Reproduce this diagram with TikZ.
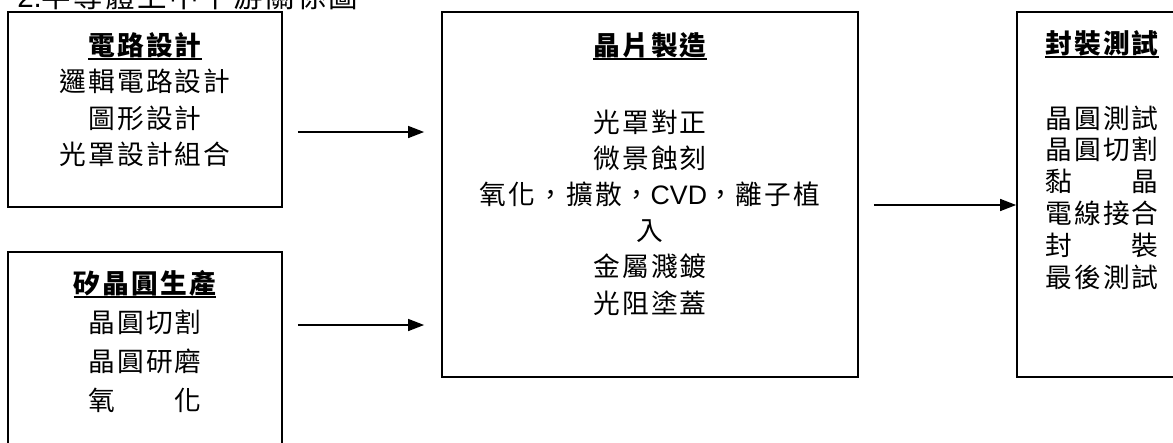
\documentclass[tikz,border=0pt]{standalone}
\usepackage{fontspec}
\setmainfont{Liberation Sans}
\newfontfamily\cjk[LetterSpace=8]{Noto Sans CJK TC}
\usetikzlibrary{arrows.meta}

\begin{document}
\begin{tikzpicture}[x=0.025cm, y=-0.025cm,
    box/.style={draw, line width=1.2pt, inner sep=0pt},
    item/.style={inner sep=0pt, text height=16.7pt, text depth=2.3pt, font=\fontsize{19}{23}\selectfont\cjk},
    head/.style={item, font=\fontsize{19}{23}\selectfont\cjk\bfseries,
        append after command={(\tikzlastnode.south west) edge[line width=1.4pt] (\tikzlastnode.south east)}},
    flow/.style={line width=1pt, -{Triangle[length=0.4cm, width=0.3cm]}}]
    \useasboundingbox (0,0) rectangle (1173,442);

    % Title (cut at the top edge)
    \node[anchor=base west, inner sep=0pt, font=\fontsize{21}{24}\selectfont] (title) at (17,7) {2.{\cjk 半導體上中下游關係圖}};

    % Boxes
    \node[box, minimum width=6.85cm, minimum height=4.875cm] (design) at (145,109.5) {};
    \node[box, minimum width=6.85cm, minimum height=5.2cm] (wafer) at (145,356) {};
    \node[box, minimum width=10.4cm, minimum height=9.125cm] (fab) at (650,194.5) {};
    \node[box, minimum width=4.25cm, minimum height=9.125cm] (pack) at (1102,194.5) {};

    % Circuit design
    \node[head] (design-h) at (145,45) {電路設計};
    \foreach \t [count=\i] in {邏輯電路設計,圖形設計,光罩設計組合}
        \node[item] (design-\i) at (145,45+36.5*\i) {\t};

    % Wafer production
    \node[head] (wafer-h) at (145,283) {矽晶圓生產};
    \foreach \t [count=\i] in {晶圓切割,晶圓研磨,氧　　化}
        \node[item] (wafer-\i) at (145,283+39*\i) {\t};

    % Chip fabrication
    \node[head] (fab-h) at (650,45) {晶片製造};
    \foreach \t [count=\i] in {光罩對正,微景蝕刻,氧化，擴散，{\rmfamily CVD}，離子植,入,金屬濺鍍,光阻塗蓋}
        \node[item] (fab-\i) at (650,122+36.2*\i-36.2) {\t};

    % Packaging and test
    \node[head] (pack-h) at (1102,43) {封裝測試};
    \foreach \t [count=\i] in {晶圓測試,晶圓切割,黏　　晶,電線接合,封　　裝,最後測試}
        \node[item] (pack-\i) at (1102,118+31.8*\i-31.8) {\t};

    % Arrows
    \draw[flow, shorten <=0.375cm, shorten >=0.425cm] (design.east |- 0,132) -- (fab.west |- 0,132);
    \draw[flow, shorten <=0.375cm, shorten >=0.425cm] (wafer.east |- 0,325) -- (fab.west |- 0,325);
    \draw[flow, shorten <=0.375cm] (fab.east |- 0,205) -- (pack.west |- 0,205);
\end{tikzpicture}
\end{document}
